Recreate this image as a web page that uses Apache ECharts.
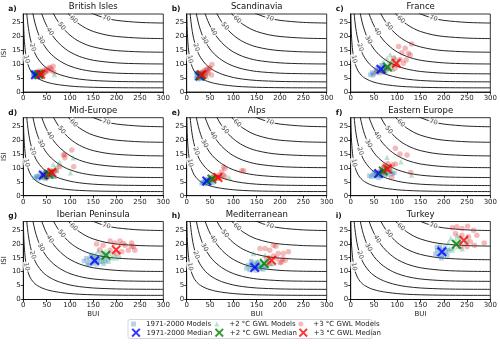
<!DOCTYPE html>
<html>
<head>
<meta charset="utf-8">
<script src="https://cdn.jsdelivr.net/npm/echarts@6/dist/echarts.min.js"></script>
<style>
  html, body { margin: 0; padding: 0; background: #fff; }
  #chart { width: 500px; height: 344px; }
</style>
</head>
<body>
<div id="chart"></div>
<script>
// panels
const regions = ['British Isles', 'Scandinavia', 'France', 'Mid-Europe', 'Alps',
  'Eastern Europe', 'Iberian Peninsula', 'Mediterranean', 'Turkey']
const letters = ['a)', 'b)', 'c)', 'd)', 'e)', 'f)', 'g)', 'h)', 'i)']

// FWI isolines, [BUI, ISI]
const isoLevels = [10, 20, 30, 40, 50, 60, 70]
const iso10 = [[0, 29.7], [0.2, 27.4], [0.5, 25.2], [1, 22.6], [2, 19.2], [3, 16.9], [4, 15.1], [5, 13.8], [7, 11.8], [10, 9.84], [15, 7.81], [20, 6.55], [25, 5.67], [30, 5.03], [40, 4.13], [50, 3.53], [60, 3.09], [70, 2.77], [80, 2.51], [100, 2.13], [120, 1.89], [150, 1.69], [200, 1.55], [250, 1.5], [300, 1.49]]
const iso20 = [[4, 37], [5, 33.7], [6, 31.1], [7, 28.9], [8, 27], [10, 24.05], [12, 21.74], [15, 19.1], [20, 16.01], [25, 13.87], [30, 12.29], [40, 10.09], [50, 8.62], [60, 7.57], [70, 6.76], [80, 6.13], [100, 5.21], [120, 4.63], [150, 4.13], [200, 3.79], [250, 3.68], [300, 3.64]]
const iso30 = [[12, 38.8], [15, 34.1], [18, 30.5], [20, 28.6], [25, 24.78], [30, 21.95], [35, 19.77], [40, 18.03], [50, 15.4], [60, 13.51], [70, 12.08], [80, 10.94], [90, 10.03], [100, 9.3], [120, 8.26], [150, 7.37], [200, 6.76], [250, 6.57], [300, 6.51]]
const iso40 = [[25, 38.3], [30, 33.9], [35, 30.55], [40, 27.85], [45, 25.65], [50, 23.8], [60, 20.88], [70, 18.66], [80, 16.91], [90, 15.5], [100, 14.37], [120, 12.77], [150, 11.39], [200, 10.45], [250, 10.15], [300, 10.06]]
const iso50 = [[40, 39.5], [50, 33.8], [55, 31.57], [60, 29.64], [70, 26.49], [80, 24], [90, 22.01], [100, 20.41], [110, 19.14], [120, 18.12], [135, 16.98], [150, 16.18], [175, 15.32], [200, 14.84], [250, 14.41], [300, 14.28]]
const iso60 = [[60, 39.8], [70, 35.6], [80, 32.2], [90, 29.56], [100, 27.41], [110, 25.7], [120, 24.34], [135, 22.81], [150, 21.72], [175, 20.57], [200, 19.92], [250, 19.35], [300, 19.17]]
const iso70 = [[80, 41.6], [90, 38.15], [100, 35.37], [110, 33.17], [120, 31.41], [135, 29.44], [150, 28.04], [175, 26.55], [200, 25.71], [250, 24.98], [300, 24.75]]
const isoLines = [iso10, iso20, iso30, iso40, iso50, iso60, iso70]
// where the isoline labels sit
const isoLabelAt = [[7, 11.8], [20, 16.0], [38, 18.7], [57, 21.7], [82, 23.6], [108, 26.0], [178, 26.4]]

// model points, [BUI, ISI]
const britHist = [[22, 6.0], [24, 5.6], [25, 6.5], [26, 6.1], [27, 5.8], [28, 6.6], [23, 6.8], [29, 6.2], [30, 5.9], [26, 7.0], [24, 6.3], [31, 6.5], [27, 5.4], [21, 6.4]]
const britGwl2 = [[30, 6.0], [32, 6.8], [34, 6.2], [36, 5.8], [38, 6.9], [33, 7.2], [40, 6.4], [35, 6.6], [29, 5.6], [37, 7.4], [42, 6.8], [67, 6.3]]
const britGwl3 = [[33, 6.2], [36, 6.8], [38, 5.9], [40, 7.2], [42, 6.5], [44, 7.8], [46, 6.9], [48, 7.4], [50, 8.2], [53, 7.6], [55, 8.5], [58, 8.8], [61, 7.9], [64, 9.2], [65, 7.2], [35, 7.5], [39, 6.1]]

const scanHist = [[20, 5.0], [22, 5.8], [24, 4.6], [25, 6.4], [26, 5.3], [28, 6.9], [23, 6.6], [29, 4.9], [30, 5.9], [27, 6.2], [21, 6.9], [31, 5.2]]
const scanGwl2 = [[26, 5.5], [28, 6.3], [30, 5.2], [32, 6.6], [34, 5.9], [36, 6.9], [31, 7.2], [38, 6.2], [43, 5.6], [35, 4.9], [29, 6.8]]
const scanGwl3 = [[28, 6.0], [31, 6.7], [33, 5.6], [35, 7.3], [37, 6.4], [39, 7.8], [41, 7.0], [43, 8.2], [45, 7.6], [48, 8.6], [50, 8.5], [54, 9.9], [53, 6.1], [46, 6.8], [40, 5.9]]

const franHist = [[42, 6.2], [46, 7.0], [50, 6.6], [54, 7.8], [58, 7.2], [60, 8.6], [62, 6.8], [65, 7.6], [68, 9.0], [70, 8.2], [72, 7.2], [75, 8.8], [56, 8.4], [48, 6.0], [66, 9.6], [78, 7.8]]
const franGwl2 = [[66, 8.0], [72, 9.5], [76, 8.6], [80, 10.2], [84, 9.0], [88, 11.0], [70, 10.8], [92, 10.0], [78, 12.0], [95, 12.5], [85, 13.5], [100, 11.2], [74, 7.4], [90, 8.2]]
const franGwl3 = [[131, 17.2], [103, 16.3], [117, 15.7], [124, 13.9], [110, 14.1], [128, 13.3], [119, 11.5], [106, 11.7], [92, 12.1], [113, 10.3], [95, 8.5], [81, 8.5], [70, 7.3], [56, 7.3], [100, 9.6], [88, 10.4]]

const midHist = [[24, 6.4], [28, 7.0], [32, 6.0], [35, 7.6], [38, 6.6], [40, 7.2], [44, 6.4], [46, 7.8], [48, 7.0], [52, 6.6], [55, 7.4], [58, 6.8], [62, 7.6], [66, 6.8], [42, 8.2], [30, 6.8], [50, 8.0]]
const midGwl2 = [[40, 6.8], [45, 7.4], [50, 7.0], [54, 8.2], [58, 7.6], [62, 8.6], [64, 11.2], [68, 9.8], [75, 11.2], [78, 12.0], [72, 9.0], [101, 8.2], [107, 13.6], [48, 6.2], [56, 9.2], [66, 7.0]]
const midGwl3 = [[42, 7.0], [48, 8.2], [52, 7.4], [55, 8.8], [58, 7.8], [60, 9.0], [63, 8.4], [66, 8.8], [71, 9.2], [78, 10.4], [86, 14.6], [89, 13.6], [89, 14.8], [104, 16.4], [108, 10.4], [50, 6.6], [45, 7.6]]

const alpsHist = [[32, 4.4], [36, 5.0], [38, 4.2], [40, 5.6], [42, 4.8], [45, 4.4], [47, 5.4], [50, 4.9], [53, 5.6], [44, 6.0], [34, 4.8], [55, 4.6]]
const alpsGwl2 = [[40, 5.2], [44, 5.8], [48, 6.2], [52, 5.4], [55, 6.6], [58, 6.0], [60, 7.0], [64, 6.4], [50, 6.8], [91, 6.5], [46, 4.8], [68, 7.2]]
const alpsGwl3 = [[50, 5.6], [55, 6.4], [60, 6.0], [63, 7.0], [66, 6.2], [70, 7.4], [72, 6.6], [75, 8.6], [78, 7.4], [79, 10.4], [82, 9.8], [82, 6.8], [118, 9.0], [122, 9.0], [58, 7.2]]

const eastHist = [[40, 7.2], [44, 6.8], [48, 7.6], [52, 7.0], [55, 8.2], [58, 7.4], [62, 8.6], [65, 7.0], [68, 8.0], [72, 7.4], [76, 8.4], [80, 7.6], [85, 8.6], [90, 7.8], [94, 8.2], [50, 8.4], [60, 6.4]]
const eastGwl2 = [[56, 7.6], [60, 8.4], [63, 7.4], [66, 9.0], [70, 8.2], [74, 9.6], [77, 11.0], [78, 13.8], [80, 9.2], [84, 10.2], [88, 8.8], [108, 12.2], [131, 7.4], [68, 10.0]]
const eastGwl3 = [[62, 8.2], [66, 9.0], [70, 9.8], [74, 8.8], [78, 10.6], [82, 9.4], [85, 10.4], [88, 6.6], [90, 11.0], [96, 11.4], [96, 17.0], [106, 15.0], [121, 14.6], [129, 8.3], [72, 10.8], [80, 11.6]]

const iberHist = [[130, 13.8], [135, 14.8], [138, 13.0], [142, 14.4], [145, 15.4], [148, 12.8], [150, 14.0], [153, 13.4], [156, 15.0], [158, 12.6], [160, 14.2], [164, 13.6], [168, 15.2], [172, 12.8], [176, 14.0], [182, 13.6], [140, 12.4], [146, 16.0]]
const iberGwl2 = [[155, 16.0], [162, 15.2], [168, 16.8], [172, 14.8], [176, 17.2], [180, 15.6], [185, 16.4], [190, 15.0], [195, 16.2], [200, 15.0], [206, 15.8], [160, 17.4], [170, 13.8], [150, 15.6]]
const iberGwl3 = [[157, 19.9], [171, 19.5], [186, 21.0], [196, 20.3], [207, 21.0], [218, 19.5], [232, 20.3], [236, 18.9], [239, 17.7], [225, 17.7], [211, 17.1], [200, 16.5], [186, 17.7], [164, 17.9], [232, 19.1], [214, 20.1]]

const mediHist = [[128, 11.2], [132, 12.4], [135, 10.6], [138, 12.0], [140, 13.2], [142, 11.0], [145, 12.6], [148, 10.4], [150, 11.8], [153, 12.8], [156, 11.2], [160, 12.2], [164, 10.8], [168, 12.0], [138, 13.8], [150, 13.4]]
const mediGwl2 = [[148, 12.2], [152, 13.6], [156, 12.0], [160, 14.0], [164, 12.6], [168, 13.4], [172, 12.0], [176, 14.2], [180, 12.8], [143, 16.5], [168, 15.9], [178, 15.3], [186, 13.0], [158, 11.2]]
const mediGwl3 = [[157, 18.3], [168, 18.3], [178, 17.7], [186, 19.5], [191, 19.1], [196, 16.5], [207, 16.5], [218, 17.1], [193, 14.7], [203, 13.5], [211, 14.1], [178, 12.9], [171, 14.7], [186, 15.6], [200, 13.2], [206, 14.6]]

const turkHist = [[182, 16.4], [186, 17.6], [188, 15.6], [190, 18.4], [193, 16.8], [196, 15.4], [198, 17.8], [200, 16.2], [203, 18.6], [205, 17.0], [208, 15.8], [192, 19.0], [185, 18.8], [210, 17.6], [195, 14.8]]
const turkGwl2 = [[210, 20.5], [215, 22.0], [220, 18.6], [225, 21.2], [230, 19.0], [235, 20.8], [240, 18.2], [245, 20.0], [218, 17.8], [232, 22.4], [250, 21.6], [212, 18.4], [228, 23.0]]
const turkGwl3 = [[218, 25.8], [228, 26.1], [239, 25.5], [251, 26.3], [225, 23.7], [239, 23.1], [253, 22.5], [271, 23.1], [257, 20.7], [266, 19.5], [287, 20.3], [250, 18.9], [237, 18.9], [264, 24.9]]

const histModels = [britHist, scanHist, franHist, midHist, alpsHist, eastHist, iberHist, mediHist, turkHist]
const gwl2Models = [britGwl2, scanGwl2, franGwl2, midGwl2, alpsGwl2, eastGwl2, iberGwl2, mediGwl2, turkGwl2]
const gwl3Models = [britGwl3, scanGwl3, franGwl3, midGwl3, alpsGwl3, eastGwl3, iberGwl3, mediGwl3, turkGwl3]

// medians, one per panel
const histMedian = [[26, 6.2], [28, 5.7], [65, 8.2], [43, 7.4], [43, 5.3], [60, 8.0], [153, 14.0], [146, 11.5], [196, 17.1]]
const gwl2Median = [[33, 6.3], [30, 6.0], [79, 9.0], [54, 7.8], [54, 6.0], [70, 8.9], [177, 15.9], [166, 12.9], [227, 19.8]]
const gwl3Median = [[37, 6.4], [32, 6.2], [98, 10.3], [61, 8.3], [67, 6.5], [79, 9.6], [199, 17.9], [182, 14.1], [243, 21.3]]

const seriesNames = ['1971-2000 Models', '+2 °C GWL Models', '+3 °C GWL Models',
  '1971-2000 Median', '+2 °C GWL Median', '+3 °C GWL Median']

const FONT = 'DejaVu Sans'
const CROSS = 'path://M1.5,0L5,3.5L8.5,0L10,1.5L6.5,5L10,8.5L8.5,10L5,6.5L1.5,10L0,8.5L3.5,5L0,1.5Z'
const labelRot = [-78, -72, -62, -58, -52, -44, -15]
const colLeft = [23.3, 186.7, 350.7]
const rowTop = [14, 117.7, 221.5]
const W = 140, H = 78

var grids = [], xAxes = [], yAxes = [], series = [], graphics = []

regions.forEach(function (name, i) {
  var r = Math.floor(i / 3), c = i % 3
  grids.push({
    left: colLeft[c], top: rowTop[r], width: W, height: H,
    show: true, borderColor: '#000', borderWidth: 0.8, backgroundColor: 'transparent'
  })
  var axisCommon = {
    gridIndex: i,
    type: 'value',
    axisLine: { show: true, onZero: false, lineStyle: { color: '#000', width: 0.8 } },
    axisTick: { show: true, length: 2.5, lineStyle: { color: '#000', width: 0.8 } },
    axisLabel: { fontSize: 7, color: '#222', fontFamily: FONT, margin: 2.5 },
    splitLine: { show: false },
    nameLocation: 'middle',
    nameTextStyle: { fontSize: 7, color: '#222', fontFamily: FONT }
  }
  xAxes.push(Object.assign({}, axisCommon, {
    min: 0, max: 300, interval: 50,
    name: r === 2 ? 'BUI' : '', nameGap: 11
  }))
  yAxes.push(Object.assign({}, axisCommon, {
    min: 0, max: 28, interval: 5,
    axisLabel: Object.assign({}, axisCommon.axisLabel, { showMaxLabel: false }),
    name: c === 0 ? 'ISI' : '', nameGap: 11.5
  }))

  // isolines
  isoLines.forEach(function (line, k) {
    series.push({
      name: 'FWI ' + isoLevels[k], type: 'line', xAxisIndex: i, yAxisIndex: i,
      data: line, showSymbol: false, smooth: 0.3, clip: true, silent: true, z: 1,
      lineStyle: { color: '#1a1a1a', width: 0.95 }
    })
  })
  series.push({
    type: 'scatter', xAxisIndex: i, yAxisIndex: i, silent: true, z: 2,
    symbolSize: 1, itemStyle: { color: 'transparent' },
    data: isoLabelAt.map(function (p, k) {
      return { value: [p[0], p[1], isoLevels[k]], label: { rotate: labelRot[k] } }
    }),
    label: {
      show: true, position: 'inside', fontSize: 6.5, color: '#222', fontFamily: FONT,
      backgroundColor: '#fff', padding: [0, 1],
      formatter: function (p) { return p.value[2] }
    }
  })

  // model points
  series.push({
    name: seriesNames[0], type: 'scatter', xAxisIndex: i, yAxisIndex: i, z: 3,
    symbol: 'rect', symbolSize: 4.5, data: histModels[i],
    itemStyle: { color: 'rgba(31,119,180,0.4)' }
  })
  series.push({
    name: seriesNames[1], type: 'scatter', xAxisIndex: i, yAxisIndex: i, z: 3,
    symbol: 'triangle', symbolSize: 5.5, data: gwl2Models[i],
    itemStyle: { color: 'rgba(44,160,110,0.4)' }
  })
  series.push({
    name: seriesNames[2], type: 'scatter', xAxisIndex: i, yAxisIndex: i, z: 3,
    symbol: 'circle', symbolSize: 5.5, data: gwl3Models[i],
    itemStyle: { color: 'rgba(214,39,40,0.4)' }
  })
  // medians
  var medCols = ['#0000ff', '#008000', '#ff0000']
  var meds = [histMedian, gwl2Median, gwl3Median]
  meds.forEach(function (m, k) {
    series.push({
      name: seriesNames[3 + k], type: 'scatter', xAxisIndex: i, yAxisIndex: i, z: 4,
      symbol: CROSS, symbolSize: 10, data: [m[i]],
      itemStyle: { color: medCols[k] }
    })
  })

  // panel title and letter
  graphics.push({
    type: 'text', x: colLeft[c] + W / 2, y: rowTop[r] - 7,
    style: { text: name, fontSize: 8.5, fontFamily: FONT, fill: '#111', align: 'center', verticalAlign: 'middle' }
  })
  graphics.push({
    type: 'text', x: colLeft[c] - 15, y: rowTop[r] - 5,
    style: { text: letters[i], fontSize: 7.5, fontWeight: 'bold', fontFamily: FONT, fill: '#111', align: 'left', verticalAlign: 'middle' }
  })
})

// legend frame
graphics.unshift({
  type: 'rect', shape: { x: 128, y: 319.5, width: 244, height: 19, r: 2 },
  style: { fill: '#fff', stroke: '#ccc', lineWidth: 0.8 }, z: -1
})

var legendPos = [[131, 320.5], [214.3, 320.5], [298.3, 320.5], [131.5, 328.2], [214.8, 328.2], [298.8, 328.2]]
var legends = seriesNames.map(function (n, k) {
  var big = k >= 3
  return {
    data: [n], left: legendPos[k][0], top: legendPos[k][1], padding: 0,
    itemWidth: big ? 9 : 5, itemHeight: big ? 9 : 5, itemGap: 0,
    selectedMode: false,
    textStyle: { fontSize: 7, color: '#222', fontFamily: FONT, padding: [0, 0, 0, big ? 1 : 5] }
  }
})

var chart = echarts.init(document.getElementById('chart'))
chart.setOption({
  animation: false,
  textStyle: { fontFamily: FONT },
  grid: grids,
  xAxis: xAxes,
  yAxis: yAxes,
  legend: legends,
  graphic: graphics,
  series: series
})
</script>
</body>
</html>
